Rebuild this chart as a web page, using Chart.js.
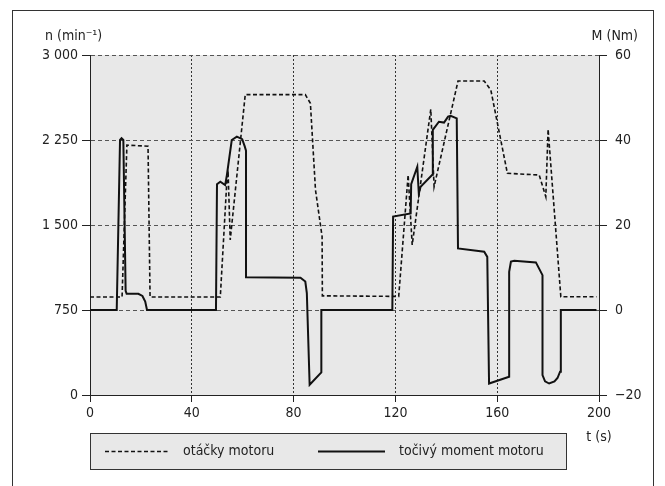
<!DOCTYPE html>
<html>
<head>
<meta charset="utf-8">
<script src="https://cdn.jsdelivr.net/npm/chart.js@4.4.1/dist/chart.umd.min.js"></script>
<style>
  html, body { margin: 0; padding: 0; background: #fff; }
</style>
</head>
<body>
<canvas id="graf" width="665" height="486"></canvas>
<script>
// Otáčky motoru (min-1) v čase t (s)
const casOtacky = [0, 12.6, 14.5, 22.8, 23.6, 51.2, 53.8, 54.3, 55.1, 61, 84.6, 86.6, 88.6, 91.2, 91.3,
                   121.3, 125, 126.6, 133.9, 135.2, 144.6, 154.9, 157.5, 164, 176.5, 179.1, 180, 185, 199];
const otacky    = [865, 865, 2205, 2195, 865, 865, 1897, 1940, 1368, 2650, 2650, 2574, 1809, 1397, 875,
                   870, 1941, 1324, 2521, 1838, 2770, 2770, 2691, 1956, 1941, 1750, 2344, 867, 867];

// Točivý moment motoru (Nm) v čase t (s)
const casMoment = [0, 10.5, 11.8, 12.4, 13.1, 14, 14.4, 19, 20.6, 21.7, 22.4, 49.5, 49.9, 51.2, 53.1, 53.8,
                   55.7, 57.7, 59.8, 60.8, 61.3, 61.3, 82.7, 84.6, 85.2, 86.3, 90.9, 90.9, 118.8, 119.1,
                   126, 126.2, 128.6, 129.2, 129.9, 134.5, 134.7, 137.1, 139.1, 140.7, 141.7, 144.1, 144.6,
                   154.9, 156.1, 156.8, 164.7, 164.7, 165.4, 166.7, 175.2, 177.8, 177.8, 178.8, 180.4,
                   182.5, 183.7, 184.7, 185, 199];
const moment    = [0, 0, 40, 40.4, 40, 4.5, 3.8, 3.8, 3.3, 2, 0, 0, 29.6, 30.2, 29.4, 31.8,
                   40, 40.8, 40.2, 38.5, 37.5, 7.7, 7.6, 6.7, 4, -17.6, -14.7, 0, 0, 22,
                   22.7, 29.6, 33.7, 27.4, 29, 31.8, 42.4, 44.3, 44.1, 45.5, 45.7, 45.1, 14.5,
                   13.7, 12.5, -17.3, -15.7, 9, 11.4, 11.6, 11.2, 8.2, -15.3, -16.8, -17.3,
                   -16.8, -16, -14.5, 0, 0];

const popiskyN = ['0', '750', '1 500', '2 250', '3 000'];
const popiskyM = ['\u221220', '0', '20', '40', '60'];
const popiskyT = ['0', '40', '80', '120', '160', '200'];

const PISMO = "'Liberation Sans Narrow', 'DejaVu Sans Condensed', 'Roboto', sans-serif";

function body(casy, hodnoty) {
    return casy.map((t, i) => ({ x: t, y: hodnoty[i] }));
}

// Šedé pozadí grafu a rámeček kolem obrázku
const pozadi = {
    id: 'pozadi',
    beforeDraw(chart) {
        const { ctx, chartArea: a } = chart;
        ctx.save();
        ctx.fillStyle = '#e8e8e8';
        ctx.fillRect(a.left, a.top, a.right - a.left, a.bottom - a.top);
        ctx.strokeStyle = '#333';
        ctx.lineWidth = 1;
        ctx.strokeRect(12.5, 10.5, 641, 500);
        ctx.restore();
    }
};

// Názvy os a legenda v rámečku
const popisky = {
    id: 'popisky',
    afterDraw(chart) {
        const ctx = chart.ctx;
        const a = chart.chartArea;
        ctx.save();
        ctx.fillStyle = '#222';
        ctx.font = '14px ' + PISMO;
        ctx.textBaseline = 'middle';
        ctx.textAlign = 'left';
        ctx.fillText('n (min\u207B\u00B9)', 45, 36);
        ctx.textAlign = 'right';
        ctx.fillText('M (Nm)', 638, 36);
        ctx.textAlign = 'center';
        ctx.fillText('t (s)', a.right, 437);

        // legenda
        const lx = 90.5, ly = 433.5, lw = 476, lh = 36;
        ctx.fillStyle = '#e8e8e8';
        ctx.fillRect(lx, ly, lw, lh);
        ctx.strokeStyle = '#333';
        ctx.lineWidth = 1;
        ctx.strokeRect(lx, ly, lw, lh);

        const sady = chart.data.datasets;
        const yl = ly + lh / 2;
        const polozky = [
            { x1: 105, x2: 170, tx: 183 },
            { x1: 318, x2: 385, tx: 399 }
        ];
        polozky.forEach((p, i) => {
            const s = sady[i];
            ctx.strokeStyle = s.borderColor;
            ctx.lineWidth = s.borderWidth;
            ctx.setLineDash(s.borderDash || []);
            ctx.beginPath();
            ctx.moveTo(p.x1, yl);
            ctx.lineTo(p.x2, yl);
            ctx.stroke();
            ctx.setLineDash([]);
            ctx.fillStyle = '#222';
            ctx.font = '14px ' + PISMO;
            ctx.textAlign = 'left';
            ctx.fillText(s.label, p.tx, yl);
        });
        ctx.restore();
    }
};

const tickFont = { family: PISMO, size: 14 };

new Chart(document.getElementById('graf'), {
    type: 'line',
    data: {
        datasets: [
            {
                label: 'otáčky motoru',
                data: body(casOtacky, otacky),
                yAxisID: 'yN',
                borderColor: '#111',
                borderWidth: 1.6,
                borderDash: [4, 2.5],
                pointRadius: 0,
                tension: 0,
                fill: false
            },
            {
                label: 'točivý moment motoru',
                data: body(casMoment, moment),
                yAxisID: 'yM',
                borderColor: '#111',
                borderWidth: 2,
                pointRadius: 0,
                tension: 0,
                fill: false
            }
        ]
    },
    options: {
        responsive: false,
        animation: false,
        devicePixelRatio: 1,
        layout: { padding: { top: 55, left: 0, right: 0, bottom: 0 } },
        plugins: { legend: { display: false }, tooltip: { enabled: false } },
        scales: {
            x: {
                type: 'linear',
                min: 0, max: 200,
                ticks: {
                    stepSize: 40,
                    font: tickFont, color: '#222', padding: 3,
                    maxRotation: 0,
                    callback: (v, i) => popiskyT[i]
                },
                grid: {
                    color: '#333', lineWidth: 1,
                    tickLength: 7, tickColor: '#222', tickBorderDash: []
                },
                border: { color: '#222', width: 1, dash: [2, 2] },
                afterFit: s => { s.height = 91; }
            },
            yN: {
                position: 'left',
                min: 0, max: 3000,
                ticks: {
                    stepSize: 750,
                    font: tickFont, color: '#222', padding: 4,
                    callback: (v, i) => popiskyN[i]
                },
                grid: {
                    color: '#555', lineWidth: 1,
                    tickLength: 8, tickColor: '#222', tickBorderDash: []
                },
                border: { color: '#222', width: 1, dash: [4, 3] },
                afterFit: s => { s.width = 90; }
            },
            yM: {
                position: 'right',
                min: -20, max: 60,
                ticks: {
                    stepSize: 20,
                    font: tickFont, color: '#222', padding: 8,
                    callback: (v, i) => popiskyM[i]
                },
                grid: {
                    drawOnChartArea: false,
                    tickLength: 8, tickColor: '#222', tickBorderDash: []
                },
                border: { color: '#222', width: 1 },
                afterFit: s => { s.width = 66; }
            }
        }
    },
    plugins: [pozadi, popisky]
});
</script>
</body>
</html>
